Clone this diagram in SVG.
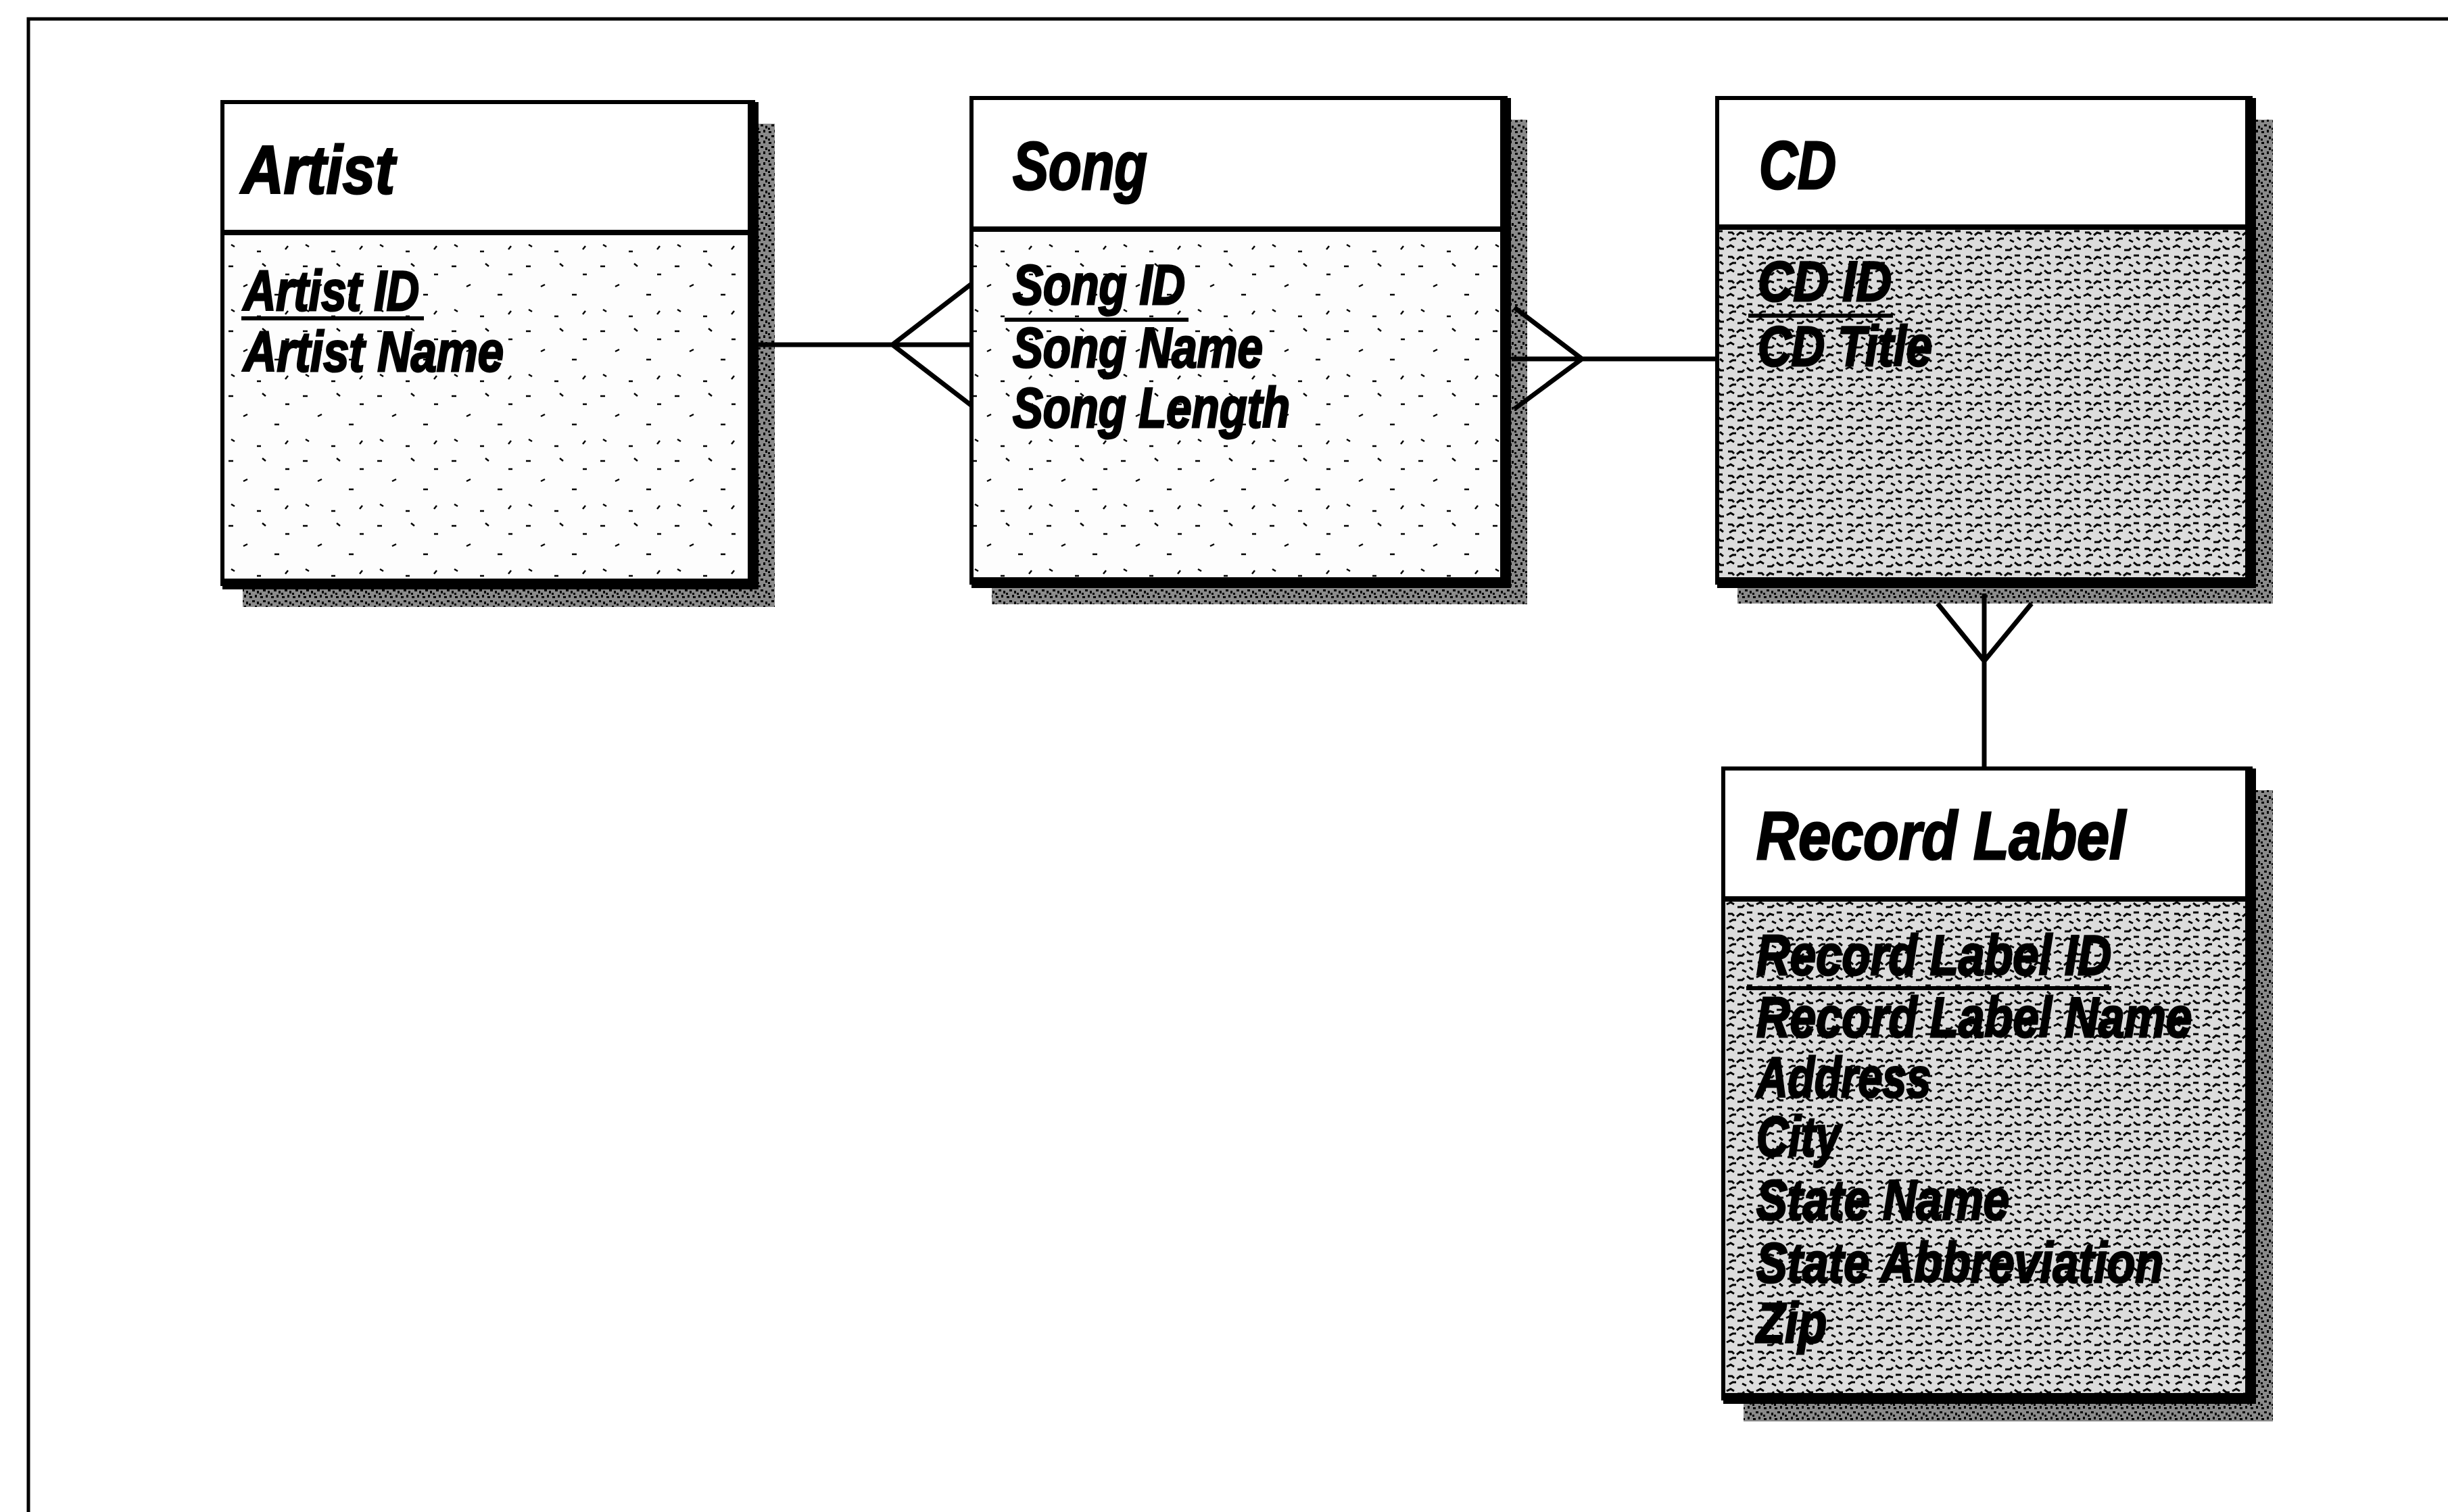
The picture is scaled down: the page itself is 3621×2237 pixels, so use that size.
<svg xmlns="http://www.w3.org/2000/svg" width="3621" height="2237" viewBox="0 0 3621 2237">
<defs>
<pattern id="pLight" width="110" height="96" patternUnits="userSpaceOnUse">
<rect width="110" height="96" fill="#fdfdfd"/>
<path d="M8,10 h7 M58,6 l5,4 M92,22 h6 M30,40 l6,-3 M76,52 h7 M12,74 l5,3 M50,84 h6 M96,76 l-4,5" stroke="#000" stroke-width="2.5" fill="none"/>
</pattern>
<pattern id="pDark" width="44" height="36" patternUnits="userSpaceOnUse">
<rect width="44" height="36" fill="#dcdcdc"/>
<path d="M2,6 l6,-3 l5,3 M18,10 h7 l3,-3 M32,4 l5,4 h5 M4,20 h6 l3,3 M17,24 l5,-4 l6,2 M32,18 h8 M6,32 l5,-3 h5 M25,31 l6,3 M36,27 l5,4" stroke="#000" stroke-width="3" fill="none"/>
</pattern>
<pattern id="pShadow" width="16" height="16" patternUnits="userSpaceOnUse">
<rect width="16" height="16" fill="#8a8a8a"/>
<rect x="1" y="2" width="4" height="3" fill="#000"/>
<rect x="9" y="0" width="3" height="4" fill="#000"/>
<rect x="5" y="8" width="4" height="3" fill="#000"/>
<rect x="12" y="10" width="3" height="4" fill="#000"/>
<rect x="0" y="13" width="3" height="3" fill="#000"/>
</pattern>
</defs>
<style>
.frame{fill:none;stroke:#000;stroke-width:5}
.shadow{fill:url(#pShadow)}
.hdr{fill:#fff;stroke:#000;stroke-width:6}
.bodyL{fill:url(#pLight);stroke:#000;stroke-width:6}
.bodyD{fill:url(#pDark);stroke:#000;stroke-width:6}
.edge{fill:none;stroke:#000;stroke-width:16}
.div{stroke:#000;stroke-width:8}
.t{font-family:"Liberation Sans",Arial,sans-serif;font-weight:bold;font-style:italic;fill:#000;stroke:#000;stroke-width:3}
.title{font-size:100px}
.attr{font-size:84px}
.ul{stroke:#000;stroke-width:6}
.conn{fill:none;stroke:#000;stroke-width:7;stroke-linejoin:miter}
</style>
<rect width="3621" height="2237" fill="#fff"/>
<path class="frame" d="M42,2237 V28 H3621"/>

<g id="artist">
<rect class="shadow" x="359" y="183" width="787" height="715"/>
<rect class="bodyL" x="329" y="344" width="785" height="520"/>
<rect class="hdr" x="329" y="151" width="785" height="193"/>
<line class="div" x1="329" y1="344" x2="1114" y2="344"/>
<path class="edge" d="M1114,151 V864 H329"/>
<text class="t title" x="357" y="286" textLength="227" lengthAdjust="spacingAndGlyphs">Artist</text>
<text class="t attr" x="360" y="459" textLength="260" lengthAdjust="spacingAndGlyphs">Artist ID</text>
<line class="ul" x1="357" y1="471" x2="627" y2="471"/>
<text class="t attr" x="360" y="549" textLength="385" lengthAdjust="spacingAndGlyphs">Artist Name</text>
</g>

<g id="song">
<rect class="shadow" x="1467" y="177" width="792" height="717"/>
<rect class="bodyL" x="1437" y="339" width="790" height="523"/>
<rect class="hdr" x="1437" y="145" width="790" height="194"/>
<line class="div" x1="1437" y1="339" x2="2227" y2="339"/>
<path class="edge" d="M2227,145 V862 H1437"/>
<text class="t title" x="1498" y="280" textLength="199" lengthAdjust="spacingAndGlyphs">Song</text>
<text class="t attr" x="1498" y="450" textLength="255" lengthAdjust="spacingAndGlyphs">Song ID</text>
<line class="ul" x1="1486" y1="473" x2="1758" y2="473"/>
<text class="t attr" x="1498" y="543" textLength="370" lengthAdjust="spacingAndGlyphs">Song Name</text>
<text class="t attr" x="1498" y="632" textLength="410" lengthAdjust="spacingAndGlyphs">Song Length</text>
</g>

<g id="cd">
<rect class="shadow" x="2570" y="177" width="792" height="716"/>
<rect class="bodyD" x="2540" y="336" width="789" height="526"/>
<rect class="hdr" x="2540" y="145" width="789" height="191"/>
<line class="div" x1="2540" y1="336" x2="3329" y2="336"/>
<path class="edge" d="M3329,145 V862 H2540"/>
<text class="t title" x="2602" y="279" textLength="114" lengthAdjust="spacingAndGlyphs">CD</text>
<text class="t attr" x="2600" y="445" textLength="198" lengthAdjust="spacingAndGlyphs">CD ID</text>
<line class="ul" x1="2586" y1="467" x2="2800" y2="467"/>
<text class="t attr" x="2600" y="541" textLength="258" lengthAdjust="spacingAndGlyphs">CD Title</text>
</g>

<g id="record-label">
<rect class="shadow" x="2579" y="1169" width="783" height="934"/>
<rect class="bodyD" x="2549" y="1330" width="780" height="739"/>
<rect class="hdr" x="2549" y="1137" width="780" height="193"/>
<line class="div" x1="2549" y1="1330" x2="3329" y2="1330"/>
<path class="edge" d="M3329,1137 V2069 H2549"/>
<text class="t title" x="2598" y="1271" textLength="546" lengthAdjust="spacingAndGlyphs">Record Label</text>
<text class="t attr" x="2598" y="1442" textLength="525" lengthAdjust="spacingAndGlyphs">Record Label ID</text>
<line class="ul" x1="2583" y1="1462" x2="3123" y2="1462"/>
<text class="t attr" x="2598" y="1534" textLength="644" lengthAdjust="spacingAndGlyphs">Record Label Name</text>
<text class="t attr" x="2598" y="1623" textLength="258" lengthAdjust="spacingAndGlyphs">Address</text>
<text class="t attr" x="2598" y="1710" textLength="124" lengthAdjust="spacingAndGlyphs">City</text>
<text class="t attr" x="2598" y="1804" textLength="374" lengthAdjust="spacingAndGlyphs">State Name</text>
<text class="t attr" x="2598" y="1897" textLength="602" lengthAdjust="spacingAndGlyphs">State Abbreviation</text>
<text class="t attr" x="2598" y="1986" textLength="104" lengthAdjust="spacingAndGlyphs">Zip</text>
</g>

<g id="connectors">
<path class="conn" d="M1122,510 H1437 M1437,420 L1320,510 L1437,600"/>
<path class="conn" d="M2236,531 H2540 M2240,455 L2340,531 L2240,605"/>
<path class="conn" d="M2935,878 V1137 M2866,893 L2935,978 L3005,893"/>
</g>
</svg>
